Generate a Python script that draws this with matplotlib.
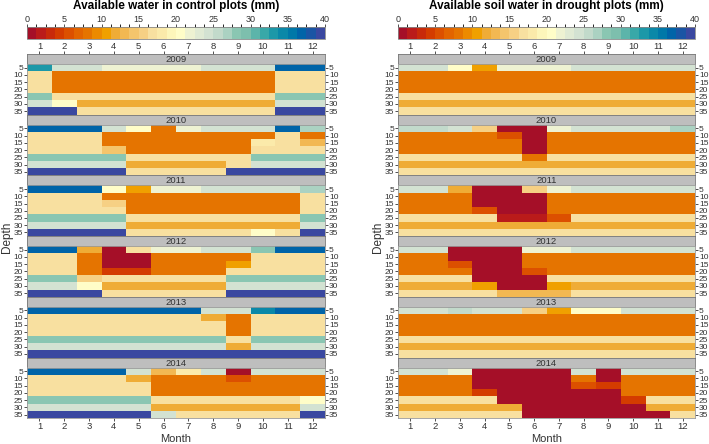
import numpy as np
import matplotlib
matplotlib.use("Agg")
import matplotlib.pyplot as plt
from matplotlib.colors import ListedColormap, BoundaryNorm
from matplotlib.cm import ScalarMappable

plt.rcParams["font.family"] = ["Liberation Sans", "DejaVu Sans"]

# values, mm of available water, rows = depth, cols = month
months = list(range(1, 13))
depths = [5, 10, 15, 20, 25, 30, 35]
years = [2009, 2010, 2011, 2012, 2013, 2014]

control_2009 = [
    [33, 24.5, 24.5, 22, 22, 22, 22, 24.5, 24.5, 24.5, 37, 37],
    [17] + [8] * 9 + [17, 17],
    [17] + [8] * 9 + [17, 17],
    [17] + [8] * 9 + [17, 17],
    [28.5] + [17] * 9 + [28.5, 28.5],
    [24.5, 20.5] + [12] * 8 + [24.5, 24.5],
    [39.5, 39.5] + [17] * 8 + [39.5, 39.5],
]
control_2010 = [
    [37, 37, 37, 24.5, 20.5, 8, 22, 24.5, 24.5, 24.5, 37, 27],
    [17, 17, 17] + [8] * 7 + [17, 8],
    [17, 17, 17] + [8] * 6 + [17.5, 17, 13],
    [17, 17, 17, 14.5] + [8] * 5 + [17, 17, 17],
    [28.5] * 4 + [17] * 5 + [28.5] * 3,
    [24.5] * 4 + [12] * 4 + [17] + [24.5] * 3,
    [39.5] * 4 + [17] * 4 + [39.5] * 4,
]
control_2011 = [
    [37, 37, 37, 20.5, 10.5, 22, 22, 24.5, 24.5, 24.5, 24.5, 27],
    [17, 17, 17] + [8] * 8 + [17],
    [17, 17, 17, 15] + [8] * 7 + [17],
    [17] * 4 + [8] * 7 + [17],
    [28.5] * 4 + [17] * 7 + [28.5],
    [24.5] * 4 + [12] * 7 + [24.5],
    [39.5] * 4 + [17] * 5 + [20.5, 17, 39.5],
]
control_2012 = [
    [37, 37, 12, 0.5, 17, 22, 22, 24.5, 24.5, 28, 37, 37],
    [17, 17, 8, 0.5, 0.5] + [8] * 4 + [17, 17, 17],
    [17, 17, 8, 0.5, 0.5, 8, 8, 8, 10.5, 17, 17, 17],
    [17, 17, 8, 4.5, 4.5, 8, 8, 8] + [17] * 4,
    [28.5, 28.5, 15] + [17] * 5 + [28.5] * 4,
    [24.5, 24.5, 20.5] + [12] * 5 + [24.5] * 4,
    [39.5] * 3 + [17] * 5 + [39.5] * 4,
]
control_2013 = [
    [37] * 7 + [24.5, 24.5, 34, 37, 37],
    [17] * 7 + [12, 8, 17, 17, 17],
    [17] * 8 + [8, 17, 17, 17],
    [17] * 8 + [8, 17, 17, 17],
    [28.5] * 8 + [17, 28.5, 28.5, 28.5],
    [24.5] * 8 + [12, 24.5, 24.5, 24.5],
    [39.5] * 12,
]
control_2014 = [
    [37] * 4 + [24.5, 13, 18, 24.5, 0.5, 24.5, 24.5, 24.5],
    [17] * 4 + [12, 8, 8, 8, 6, 8, 8, 8],
    [17] * 5 + [8] * 7,
    [17] * 5 + [8] * 7,
    [28.5] * 5 + [17] * 6 + [20.5],
    [24.5] * 5 + [12] * 6 + [24.5],
    [39.5] * 5 + [24.5] + [17] * 5 + [39.5],
]

drought_2009 = [
    [24.5, 24.5, 20.5, 10.5, 22, 22, 22, 24.5, 24.5, 24.5, 24.5, 24.5],
    [8] * 12,
    [8] * 12,
    [8] * 12,
    [17] * 12,
    [12] * 12,
    [17] * 12,
]
drought_2010 = [
    [25.5, 25.5, 24.5, 16, 0.5, 0.5, 22, 24.5, 24.5, 24.5, 24.5, 27],
    [8] * 4 + [6, 0.5] + [8] * 6,
    [8] * 5 + [0.5] + [8] * 6,
    [8] * 5 + [0.5] + [8] * 6,
    [17] * 5 + [8] + [17] * 6,
    [12] * 12,
    [17] * 12,
]
drought_2011 = [
    [24.5, 24.5, 12, 0.5, 0.5, 16, 22] + [24.5] * 5,
    [8] * 3 + [0.5] * 3 + [8] * 6,
    [8] * 3 + [0.5] * 3 + [8] * 6,
    [8] * 3 + [6, 0.5, 0.5] + [8] * 6,
    [17] * 4 + [2, 2, 5] + [17] * 5,
    [12] * 12,
    [17] * 12,
]
drought_2012 = [
    [24.5, 24.5, 0.5, 0.5, 0.5, 22, 22] + [24.5] * 5,
    [8, 8, 0.5, 0.5, 0.5] + [8] * 7,
    [8, 8, 6, 0.5, 0.5] + [8] * 7,
    [8] * 3 + [0.5, 0.5, 6] + [8] * 6,
    [17] * 3 + [0.5] * 3 + [17] * 6,
    [12] * 3 + [10.5, 0.5, 0.5, 10.5] + [12] * 5,
    [17] * 4 + [13] * 3 + [17] * 5,
]
drought_2013 = [
    [24.5, 24.5, 25.5, 24.5, 24.5, 16, 10.5, 20.5, 20.5, 24.5, 24.5, 24.5],
    [8] * 12,
    [8] * 12,
    [8] * 12,
    [17] * 12,
    [12] * 12,
    [17] * 12,
]
drought_2014 = [
    [24.5, 24.5, 22, 0.5, 0.5, 0.5, 0.5, 24.5, 0.5, 24.5, 24.5, 24.5],
    [8] * 3 + [0.5] * 4 + [8, 0.5] + [8] * 3,
    [8] * 3 + [0.5] * 4 + [5, 4.5] + [8] * 3,
    [8] * 3 + [4.5] + [0.5] * 5 + [8] * 3,
    [17] * 4 + [0.5] * 5 + [4.5, 17, 17],
    [12] * 5 + [0.5] * 5 + [12, 12],
    [17] * 5 + [0.5] * 6 + [17],
]

control = [control_2009, control_2010, control_2011, control_2012, control_2013, control_2014]
drought = [drought_2009, drought_2010, drought_2011, drought_2012, drought_2013, drought_2014]

palette = ["#a50f28", "#ba1b1a", "#c82a0a", "#d43c00", "#dc5000", "#e26400", "#e57400", "#ec8a00",
           "#f0a000", "#efac36", "#f2b852", "#f4c56c", "#f6d084", "#f8e0a0", "#fbeaaa", "#fdf6ba",
           "#fffdc8", "#eef2d2", "#e0ead4", "#d3e2d2", "#c2dacb", "#abd2c2", "#8ac6b2", "#7dbfad",
           "#5cb4aa", "#38a8a8", "#1c98a8", "#0a88a8", "#0078a8", "#0064a8", "#1a55a4", "#3a48a0"]
cmap = ListedColormap(palette)
norm = BoundaryNorm(np.linspace(0, 40, 33), 32)

W, H = 709, 444
fig = plt.figure(figsize=(W / 100, H / 100), dpi=100)


def box(x0, y0, x1, y1):
    return [x0 / W, 1 - y1 / H, (x1 - x0) / W, (y1 - y0) / H]


txt = "#333333"
panels = [(27, 325, "Available water in control plots (mm)", control),
          (398, 695, "Available soil water in drought plots (mm)", drought)]

for x0, x1, title, data in panels:
    fig.text((x0 + x1) / 2 / W, 1 - 6 / H, title, ha="center", va="center",
             fontsize=8.5, fontweight="bold")
    cax = fig.add_axes(box(x0, 27, x1, 39))
    cb = fig.colorbar(ScalarMappable(norm=norm, cmap=cmap), cax=cax,
                      orientation="horizontal", ticks=range(0, 41, 5))
    cax.xaxis.set_ticks_position("top")
    cax.tick_params(labelsize=6.5, length=2.5, width=0.6, colors=txt, pad=0)
    cb.outline.set_edgecolor("#888888")
    cb.outline.set_linewidth(0.6)

    for i, (yr, grid) in enumerate(zip(years, data)):
        top = 54 + i * 60.7
        hax = fig.add_axes(box(x0, top, x1, top + 10))
        hax.set_facecolor("#bebebe")
        hax.set_xlim(0.5, 12.5)
        hax.set_yticks([])
        hax.text(0.5, 0.45, str(yr), transform=hax.transAxes, ha="center", va="center",
                 fontsize=6.8, color=txt)
        for s in hax.spines.values():
            s.set_edgecolor("#777777")
            s.set_linewidth(0.6)
        if i == 0:
            hax.set_xticks(months)
            hax.xaxis.set_ticks_position("top")
            hax.tick_params(labelsize=6.8, length=2, width=0.6, colors=txt, pad=0)
        else:
            hax.set_xticks([])

        ax = fig.add_axes(box(x0, top + 10, x1, top + 60.7))
        ax.pcolormesh(np.arange(0.5, 13), np.arange(2.5, 38, 5), np.array(grid),
                      cmap=cmap, norm=norm)
        ax.set_xlim(0.5, 12.5)
        ax.set_ylim(37.5, 2.5)
        ax.set_yticks(depths)
        ax.tick_params(axis="y", left=True, right=True, labelleft=True, labelright=True,
                       labelsize=6, length=2, width=0.6, colors=txt, pad=0.8)
        for s in ax.spines.values():
            s.set_edgecolor("#999999")
            s.set_linewidth(0.6)
        if i == 5:
            ax.set_xticks(months)
            ax.tick_params(axis="x", labelsize=6.8, length=2, width=0.6, colors=txt, pad=1)
        else:
            ax.set_xticks([])

    fig.text((x0 - 20) / W, 1 - 237 / H, "Depth", rotation=90, ha="center", va="center",
             fontsize=8.5, color=txt)
    fig.text((x0 + x1) / 2 / W, 1 - 438.5 / H, "Month", ha="center", va="center",
             fontsize=8, color=txt)

fig.savefig("out.png", dpi=100)
